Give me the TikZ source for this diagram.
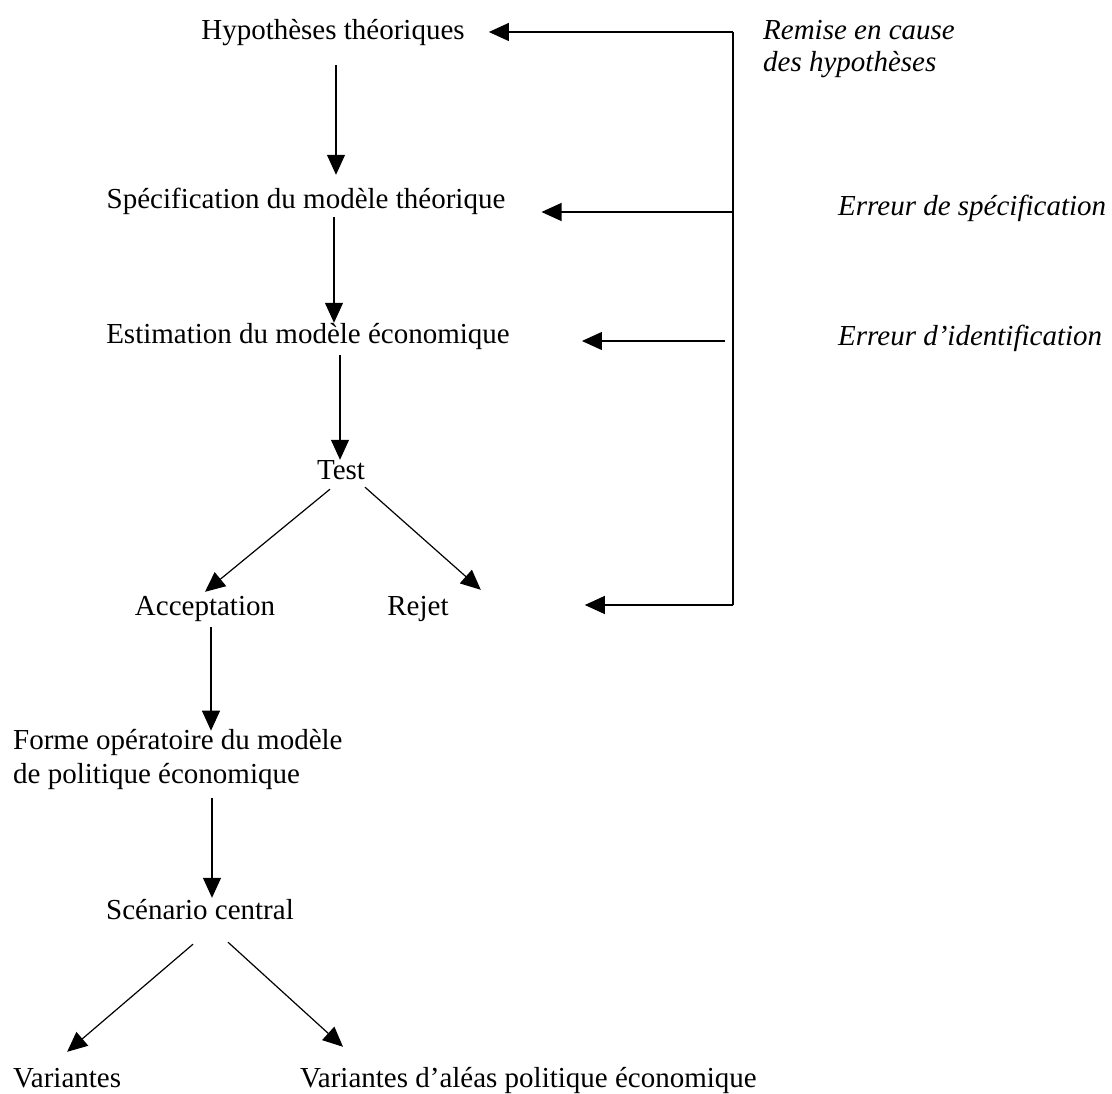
\documentclass[tikz,border=0pt]{standalone}
\usepackage{fontspec}
\setmainfont{Liberation Serif}
\usetikzlibrary{arrows.meta,calc}
\begin{document}
\begin{tikzpicture}[x=1pt,y=-1pt,
  lbl/.style={inner sep=0pt, text height=20pt, text depth=6pt, font=\fontsize{29}{34}\selectfont},
  ilbl/.style={inner sep=0pt, anchor=west, align=left, font=\fontsize{29}{32.5}\selectfont\itshape},
  arr/.style={line width=1.2pt, -{Triangle[length=20pt,width=18pt]}},
  fbline/.style={line width=1.2pt}]
\useasboundingbox (0,0) rectangle (1112,1094);
% main nodes
\node[lbl] (hyp) at (333,33) {Hypothèses théoriques};
\node[lbl] (spec) at (306,202) {Spécification du modèle théorique};
\node[lbl] (est) at (308,336) {Estimation du modèle économique};
\node[lbl] (test) at (341,472) {Test};
\node[lbl] (acc) at (205,608) {Acceptation};
\node[lbl] (rej) at (418,608) {Rejet};
\node[lbl, text height=, text depth=, anchor=west, align=left] (forme) at (13,760) {Forme opératoire du modèle\\de politique économique};
\node[lbl] (scen) at (200,912) {Scénario central};
\node[lbl, anchor=west] (var1) at (13,1080) {Variantes};
\node[lbl, anchor=west] (var2) at (300,1080) {Variantes d’aléas politique économique};
% side labels
\node[ilbl] (remise) at (763,49) {Remise en cause\\des hypothèses};
\node[ilbl] (espec) at (838,208) {Erreur de spécification};
\node[ilbl] (eiden) at (838,338) {Erreur d’identification};
% main chain
\draw[arr] ($(hyp.south)+(3,19)$) -- ($(hyp.south |- spec.north)+(3,-14)$);
\draw[arr] ($(hyp.south |- spec.south)+(1,2)$) -- ($(hyp.south |- est.north)+(1,0)$);
\draw[arr] ($(test.north |- est.south)+(-1,6)$) -- ($(test.north)+(-1,1)$);
\draw[arr] ($(test.south)+(-11,4)$) -- ($(acc.north)+(0,-3)$);
\draw[arr] ($(test.south)+(24,2)$) -- ($(rej.north east)+(32,-5)$);
\draw[arr] ($(acc.south)+(6,6)$) -- ($(acc.south |- forme.north)+(6,1)$);
\draw[arr] ($(scen.north |- forme.south)+(12,8)$) -- ($(scen.north)+(12,-1)$);
\draw[arr] ($(scen.south)+(-7,19)$) -- ($(var1.north)+(0,-15)$);
\draw[arr] ($(scen.south)+(28,17)$) -- ($(var2.north west)+(43,-20)$);
% feedback loop
\coordinate (fb) at ($(remise.west |- hyp)+(-30,-1)$);
\draw[fbline] (fb) -- ($(fb |- rej)+(0,-3)$);
\draw[arr] (fb) -- ($(hyp.east)+(24,-1)$);
\draw[arr] ($(fb |- spec)+(0,10)$) -- ($(spec.east)+(36,10)$);
\draw[arr] ($(fb |- est)+(-8,5)$) -- ($(est.east)+(72,5)$);
\draw[arr] ($(fb |- rej)+(0,-3)$) -- ($(rej.east)+(136,-3)$);
\end{tikzpicture}
\end{document}
